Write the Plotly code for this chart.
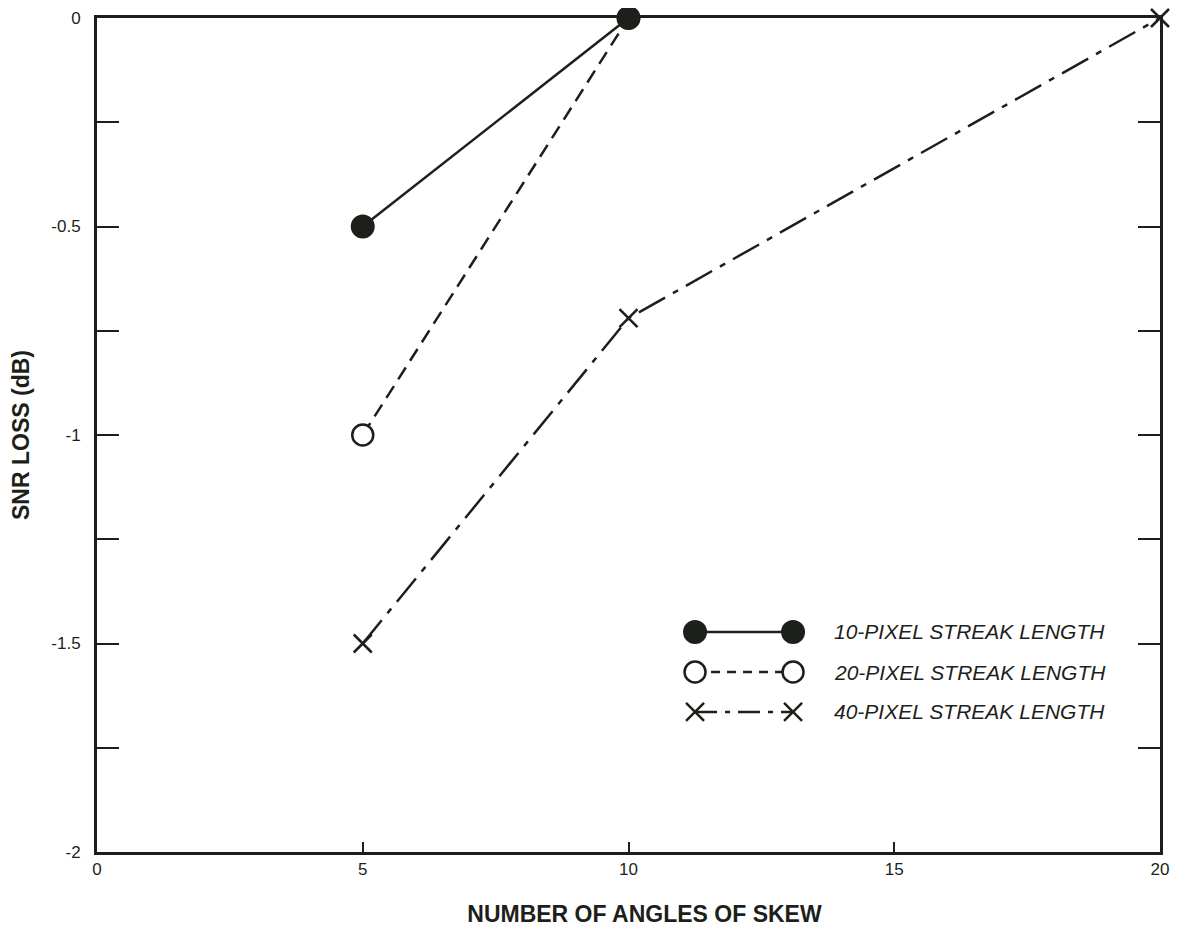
import plotly.graph_objects as go

# ---- data ----
angles_10 = [5, 10]
loss_10 = [-0.5, 0.0]
angles_20 = [5, 10]
loss_20 = [-1.0, 0.0]
angles_40 = [5, 10, 20]
loss_40 = [-1.5, -0.72, 0.0]

series_names = ["10-PIXEL STREAK LENGTH", "20-PIXEL STREAK LENGTH", "40-PIXEL STREAK LENGTH"]
x_ticks = [0, 5, 10, 15, 20]
y_ticks = [0, -0.5, -1, -1.5, -2]
y_tick_labels = ["0", "-0.5", "-1", "-1.5", "-2"]

INK = "#1c1f1a"
FONT = "Liberation Sans, Arial, sans-serif"

fig = go.Figure()

styles = [
    dict(dash="solid", legdash="solid",
         marker=dict(symbol="circle", size=24, color=INK, line=dict(color=INK, width=0))),
    dict(dash="14px,8px", legdash="9px,7px",
         marker=dict(symbol="circle", size=21, color="white", line=dict(color=INK, width=2.5))),
    dict(dash="30px,9px,6px,9px", legdash="22px,8px,5px,8px",
         marker=dict(symbol="x-thin-open", size=18, color=INK, line=dict(color=INK, width=2.5))),
]

data = [(angles_10, loss_10), (angles_20, loss_20), (angles_40, loss_40)]
# draw back-to-front so solid line sits on top
for (xs, ys), st, name in list(zip(data, styles, series_names))[::-1]:
    fig.add_trace(go.Scatter(
        x=xs, y=ys, mode="lines+markers", name=name,
        line=dict(color=INK, width=2.5, dash=st["dash"]),
        marker=st["marker"], cliponaxis=False, showlegend=False,
    ))

# ---- custom legend (samples on an overlay axis in paper-like units) ----
leg_rows = [0.2638, 0.2158, 0.1679]
leg_x0, leg_x1, leg_tx = 0.5626, 0.6548, 0.6914
for row, st, name in zip(leg_rows, styles, series_names):
    fig.add_trace(go.Scatter(
        x=[leg_x0, leg_x1], y=[row, row], mode="lines+markers",
        xaxis="x2", yaxis="y2", showlegend=False, hoverinfo="skip",
        line=dict(color=INK, width=2.5, dash=st["legdash"]),
        marker=st["marker"], cliponaxis=False,
    ))
    fig.add_annotation(
        x=leg_tx, y=row, xref="paper", yref="paper", text=name, showarrow=False,
        xanchor="left", yanchor="middle",
        font=dict(family=FONT, size=21, color=INK, style="italic"),
    )

fig.update_layout(
    width=1162, height=919,
    margin=dict(l=89, r=10, t=10, b=75),
    paper_bgcolor="white", plot_bgcolor="white",
    font=dict(family=FONT, size=17, color=INK),
    xaxis=dict(
        range=[0, 20], tickvals=x_ticks, ticktext=[str(v) for v in x_ticks],
        showgrid=False, zeroline=False, showline=True, linecolor=INK, linewidth=3,
        mirror=True, ticks="inside", ticklen=10, tickwidth=1.5, tickcolor=INK,
        automargin=False,
        title=dict(text="&nbsp;&nbsp;&nbsp;&nbsp;&nbsp;<b>NUMBER OF ANGLES OF SKEW</b>", standoff=37,
                   font=dict(family=FONT, size=23, color=INK)),
        tickfont=dict(size=17),
    ),
    yaxis=dict(
        range=[-2, 0], tickvals=y_ticks, ticktext=y_tick_labels,
        showgrid=False, zeroline=False, showline=True, linecolor=INK, linewidth=3,
        mirror="ticks", ticks="inside", ticklen=22, tickwidth=1.5, tickcolor=INK,
        automargin=False,
        minor=dict(dtick=0.25, ticks="inside", ticklen=22, tickwidth=1.5, tickcolor=INK),
        title=dict(text="<b>SNR LOSS (dB)</b>", standoff=18,
                   font=dict(family=FONT, size=23, color=INK)),
        tickfont=dict(size=17), ticklabelstandoff=10,
    ),
    xaxis2=dict(range=[0, 1], overlaying="x", visible=False, fixedrange=True),
    yaxis2=dict(range=[0, 1], overlaying="y", visible=False, fixedrange=True),
)

fig.write_html("out.html")
